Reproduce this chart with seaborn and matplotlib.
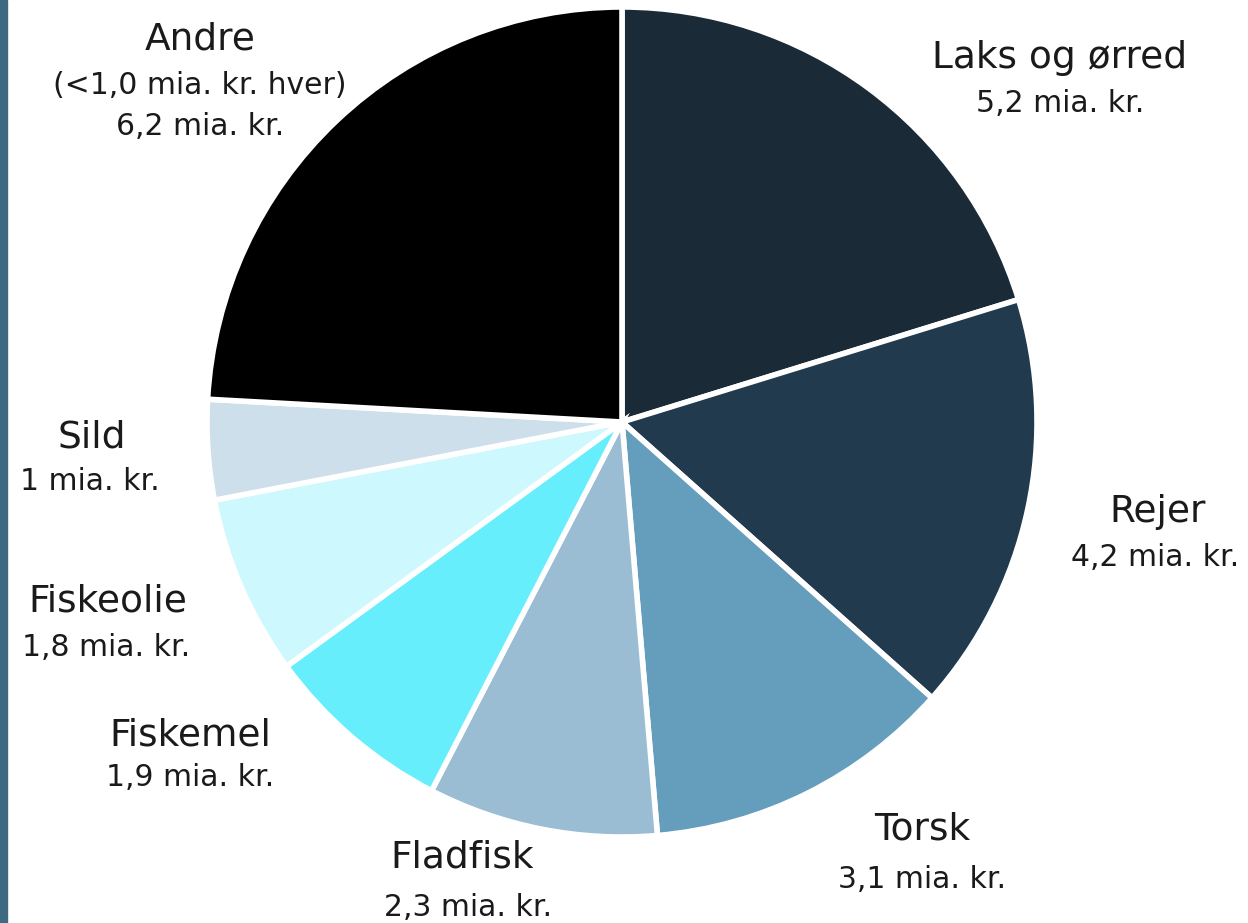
import matplotlib
matplotlib.use("Agg")
import matplotlib.pyplot as plt
from matplotlib.patches import Rectangle
import seaborn as sns

# data
categories = ["Laks og ørred", "Rejer", "Torsk", "Fladfisk", "Fiskemel", "Fiskeolie", "Sild", "Andre"]
values = [5.2, 4.2, 3.1, 2.3, 1.9, 1.8, 1.0, 6.2]
value_labels = ["5,2 mia. kr.", "4,2 mia. kr.", "3,1 mia. kr.", "2,3 mia. kr.",
                "1,9 mia. kr.", "1,8 mia. kr.", "1 mia. kr.", "(<1,0 mia. kr. hver)\n6,2 mia. kr."]
colors = ["#1a2a36", "#213a4e", "#659dbc", "#9bbdd3", "#67eefc", "#cdf8fd", "#cddfea", "#000000"]

# label positions in pixels (name line, value line)
name_pos = [(1060, 58), (1158, 512), (922, 830), (462, 857), (190, 735), (108, 602), (92, 437), (200, 40)]
val_pos = [(1060, 103), (1155, 557), (922, 880), (468, 907), (190, 778), (106, 648), (90, 482), (200, 106)]

sns.set_style("white")
plt.rcParams['font.family'] = ['DejaVu Sans']

W, H = 1248, 923
cx, cy, R = 622, 422, 415
fig = plt.figure(figsize=(W / 100, H / 100), dpi=100)
ax = fig.add_axes([0, 0, 1, 1])

ax.pie(values, colors=colors, startangle=90, counterclock=False, radius=1,
       wedgeprops=dict(edgecolor="white", linewidth=4))
ax.set_xlim(-cx / R, (W - cx) / R)
ax.set_ylim(-(H - cy) / R, cy / R)
ax.set_aspect("auto")
ax.axis("off")

for name, val, (nx, ny), (vx, vy) in zip(categories, value_labels, name_pos, val_pos):
    fig.text(nx / W, 1 - ny / H, name, ha="center", va="center", fontsize=27, color="#1a1a1a")
    fig.text(vx / W, 1 - vy / H, val, ha="center", va="center", fontsize=21.5,
             color="#1a1a1a", linespacing=1.55)

fig.add_artist(Rectangle((0, 0), 7 / W, 1, color="#3d6a80", transform=fig.transFigure))

fig.savefig("out.png", dpi=100, facecolor="white")
